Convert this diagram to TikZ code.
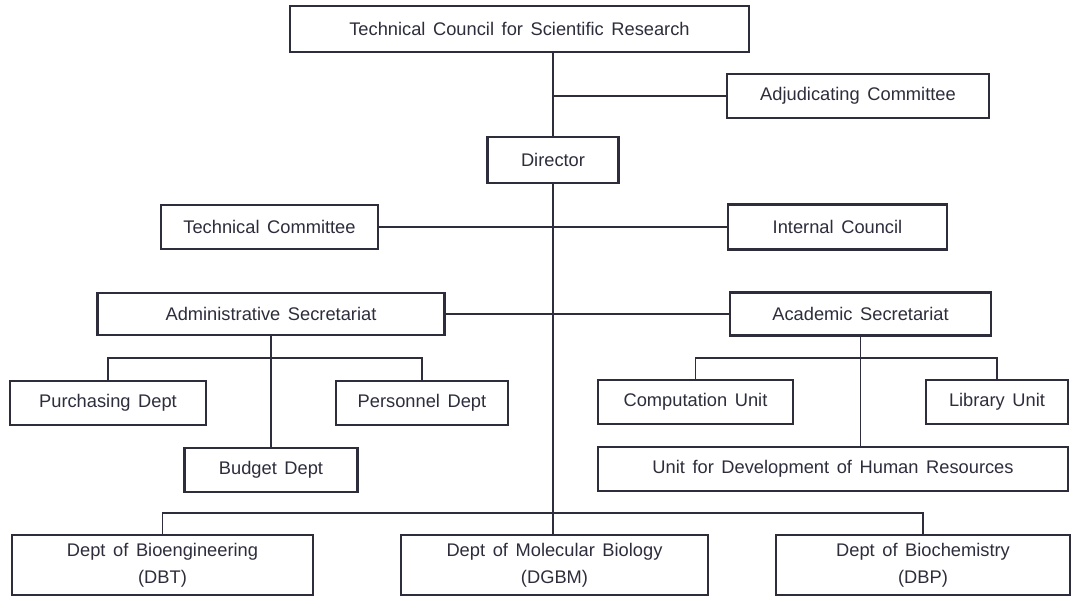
\documentclass[tikz,border=0pt]{standalone}
\usepackage{fontspec}
\setmainfont[WordSpace=1.5]{Liberation Sans}
\usepackage{tikz}
\definecolor{ink}{RGB}{45,45,60}
\tikzset{
  box/.style={draw=ink,text=ink,line width=2pt,inner sep=0pt,align=center,font=\fontsize{13}{19.5}\selectfont},
  link/.style={draw=ink,line width=1.3pt}
}

\begin{document}
\begin{tikzpicture}[x=0.025cm,y=-0.025cm]
\useasboundingbox (0,0) rectangle (1075,598);
\node[box,minimum width=11.475cm,minimum height=1.15cm] (tcsr) at (519.5,29) {Technical Council for Scientific Research};
\node[box,minimum width=6.55cm,minimum height=1.1cm] (adj) at (858,96) {Adjudicating Committee};
\node[box,minimum width=3.275cm,minimum height=1.15cm] (dir) at (553,160) {Director};
\node[box,minimum width=5.425cm,minimum height=1.1cm] (tc) at (269.5,227) {Technical Committee};
\node[box,minimum width=5.475cm,minimum height=1.125cm] (ic) at (837.5,227) {Internal Council};
\node[box,minimum width=8.675cm,minimum height=1.05cm] (as) at (271,314) {Administrative Secretariat};
\node[box,minimum width=6.525cm,minimum height=1.075cm] (acs) at (860.5,314) {Academic Secretariat};
\node[box,minimum width=4.9cm,minimum height=1.1cm] (pur) at (108,403) {Purchasing Dept};
\node[box,minimum width=4.3cm,minimum height=1.1cm] (per) at (422,403) {Personnel Dept};
\node[box,minimum width=4.325cm,minimum height=1.1cm] (bud) at (271,470) {Budget Dept};
\node[box,minimum width=4.875cm,minimum height=1.1cm] (cu) at (695.5,402) {Computation Unit};
\node[box,minimum width=3.55cm,minimum height=1.1cm] (lu) at (997,402) {Library Unit};
\node[box,minimum width=11.75cm,minimum height=1.1cm] (udhr) at (833,469) {Unit for Development of Human Resources};
\node[box,minimum width=7.525cm,minimum height=1.5cm] (dbt) at (162.5,565) {Dept of Bioengineering\\(DBT)};
\node[box,minimum width=7.675cm,minimum height=1.5cm] (dgbm) at (554.5,565) {Dept of Molecular Biology\\(DGBM)};
\node[box,minimum width=7.35cm,minimum height=1.5cm] (dbp) at (923,565) {Dept of Biochemistry\\(DBP)};

\draw[link] (tcsr.south -| dir.north) -- (dir.north);
\draw[link] (dir.north |- adj.west) -- (adj.west);
\draw[link] (dir.south) -- (dir.south |- dgbm.north);
\draw[link] (tc.east) -- (tc.east -| ic.west);
\draw[link] (as.east) -- (as.east -| acs.west);
\draw[link] (as.south) -- (as.south |- bud.north);
\draw[link] (pur.north) -- ++(0,-22) -| (per.north);
\draw[link] (acs.south) -- (acs.south |- udhr.north);
\draw[link] (cu.north) -- ++(0,-21) -| (lu.north);
\draw[link] (dbt.north) -- ++(0,-21) -| (dbp.north);
\end{tikzpicture}
\end{document}
